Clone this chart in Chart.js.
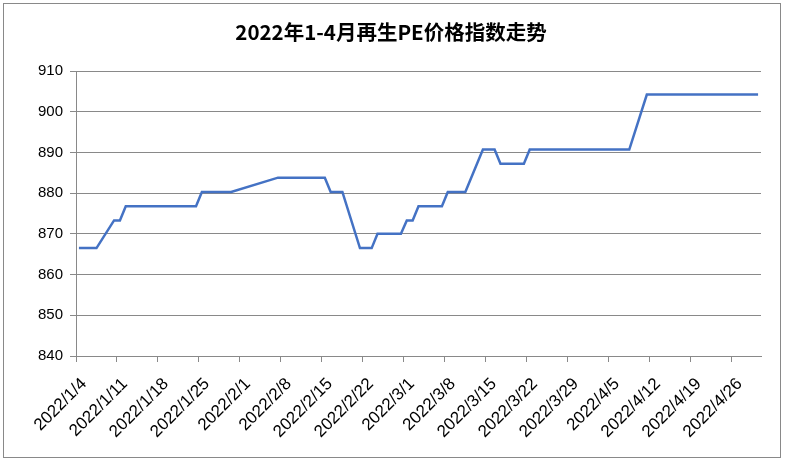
<!DOCTYPE html>
<html>
<head>
<meta charset="utf-8">
<script src="https://cdn.jsdelivr.net/npm/chart.js@4"></script>
<style>
  html, body { margin: 0; padding: 0; background: #fff; }
  canvas { display: block; }
</style>
</head>
<body>
<canvas id="peChart" width="785" height="466"></canvas>
<script>
// trading days and index values
const DATES = [
    '2022/1/4', '2022/1/5', '2022/1/6', '2022/1/7', '2022/1/10', '2022/1/11', '2022/1/12',
    '2022/1/13', '2022/1/14', '2022/1/17', '2022/1/18', '2022/1/19', '2022/1/20', '2022/1/21',
    '2022/1/24', '2022/1/25', '2022/1/26', '2022/1/27', '2022/1/28', '2022/1/29', '2022/1/30',
    '2022/2/7', '2022/2/8', '2022/2/9', '2022/2/10', '2022/2/11', '2022/2/14', '2022/2/15',
    '2022/2/16', '2022/2/17', '2022/2/18', '2022/2/21', '2022/2/22', '2022/2/23', '2022/2/24',
    '2022/2/25', '2022/2/28', '2022/3/1', '2022/3/2', '2022/3/3', '2022/3/4', '2022/3/7',
    '2022/3/8', '2022/3/9', '2022/3/10', '2022/3/11', '2022/3/14', '2022/3/15', '2022/3/16',
    '2022/3/17', '2022/3/18', '2022/3/21', '2022/3/22', '2022/3/23', '2022/3/24', '2022/3/25',
    '2022/3/28', '2022/3/29', '2022/3/30', '2022/3/31', '2022/4/1', '2022/4/2', '2022/4/6',
    '2022/4/7', '2022/4/8', '2022/4/11', '2022/4/12', '2022/4/13', '2022/4/14', '2022/4/15',
    '2022/4/18', '2022/4/19', '2022/4/20', '2022/4/21', '2022/4/22', '2022/4/24', '2022/4/25',
    '2022/4/26', '2022/4/27', '2022/4/28', '2022/4/29', '2022/4/30'
];

const PRICES = [
    866.5, 866.5, 866.5, 866.5, 873.3, 873.3, 876.8,
    876.8, 876.8, 876.8, 876.8, 876.8, 876.8, 876.8,
    876.8, 880.3, 880.3, 880.3, 880.3, 880.3, 880.3,
    883.8, 883.8, 883.8, 883.8, 883.8, 883.8, 883.8,
    880.3, 880.3, 880.3, 866.5, 866.5, 866.5, 870.0,
    870.0, 870.0, 873.3, 873.3, 876.8, 876.8, 876.8,
    880.3, 880.3, 880.3, 880.3, 890.7, 890.7, 890.7,
    887.2, 887.2, 887.2, 890.7, 890.7, 890.7, 890.7,
    890.7, 890.7, 890.7, 890.7, 890.7, 890.7, 890.7,
    890.7, 890.7, 904.2, 904.2, 904.2, 904.2, 904.2,
    904.2, 904.2, 904.2, 904.2, 904.2, 904.2, 904.2,
    904.2, 904.2, 904.2, 904.2, 904.2
];

const Y_MIN = 840;
const Y_MAX = 910;
const Y_STEP = 10;
const AXIS_DAYS = 117;   // 2022/1/4 .. 2022/5/1
const TICK_DAYS = 7;

const START = Date.UTC(2022, 0, 4);
const DAY_MS = 86400000;

function dayIndex(label) {
    const [y, m, d] = label.split('/').map(Number);
    return (Date.UTC(y, m - 1, d) - START) / DAY_MS;
}

function dayLabel(index) {
    const dt = new Date(START + index * DAY_MS);
    return dt.getUTCFullYear() + '/' + (dt.getUTCMonth() + 1) + '/' + dt.getUTCDate();
}

// Excel date axis puts each point in the middle of its day
const points = DATES.map((label, i) => ({ x: dayIndex(label) + 0.5, y: PRICES[i] }));

const GRID = '#898989';

const frame = {
    id: 'frame',
    beforeDraw(chart) {
        const ctx = chart.ctx;
        ctx.save();
        ctx.fillStyle = '#fff';
        ctx.fillRect(0, 0, chart.width, chart.height);
        ctx.strokeStyle = GRID;
        ctx.lineWidth = 1;
        ctx.strokeRect(3.5, 3.5, 777, 454);
        ctx.restore();
    }
};

new Chart(document.getElementById('peChart'), {
    type: 'line',
    data: {
        datasets: [{
            data: points,
            borderColor: '#4472C4',
            borderWidth: 2.5,
            pointRadius: 0,
            tension: 0,
            fill: false
        }]
    },
    options: {
        responsive: false,
        animation: false,
        layout: { padding: { left: 21, right: 24, top: 0, bottom: 0 } },
        plugins: {
            legend: { display: false },
            tooltip: { enabled: false },
            title: {
                display: true,
                text: '2022年1-4月再生PE价格指数走势',
                color: '#000',
                font: { family: '"Noto Sans CJK SC", sans-serif', size: 20.5, weight: 'bold', lineHeight: 1.2 },
                padding: { top: 20, bottom: 26.4 }
            }
        },
        scales: {
            x: {
                type: 'linear',
                min: 0,
                max: AXIS_DAYS,
                afterFit(scale) { scale.height = 110; },
                afterBuildTicks(scale) {
                    scale.ticks = scale.ticks.filter(t => t.value % TICK_DAYS === 0);
                },
                border: { display: true, color: GRID },
                grid: { drawOnChartArea: false, drawTicks: true, tickLength: 6, color: GRID },
                ticks: {
                    stepSize: TICK_DAYS,
                    includeBounds: false,
                    autoSkip: false,
                    maxRotation: 45,
                    minRotation: 45,
                    padding: 12,
                    labelOffset: 8,
                    color: '#000',
                    font: { family: '"Liberation Sans", sans-serif', size: 17 },
                    callback: value => dayLabel(value)
                }
            },
            y: {
                min: Y_MIN,
                max: Y_MAX,
                afterFit(scale) { scale.width = 55; },
                border: { display: true, color: GRID },
                grid: { color: GRID, tickLength: 6 },
                ticks: {
                    stepSize: Y_STEP,
                    padding: 7,
                    color: '#000',
                    font: { family: '"Liberation Sans", sans-serif', size: 15 }
                }
            }
        }
    },
    plugins: [frame]
});
</script>
</body>
</html>
